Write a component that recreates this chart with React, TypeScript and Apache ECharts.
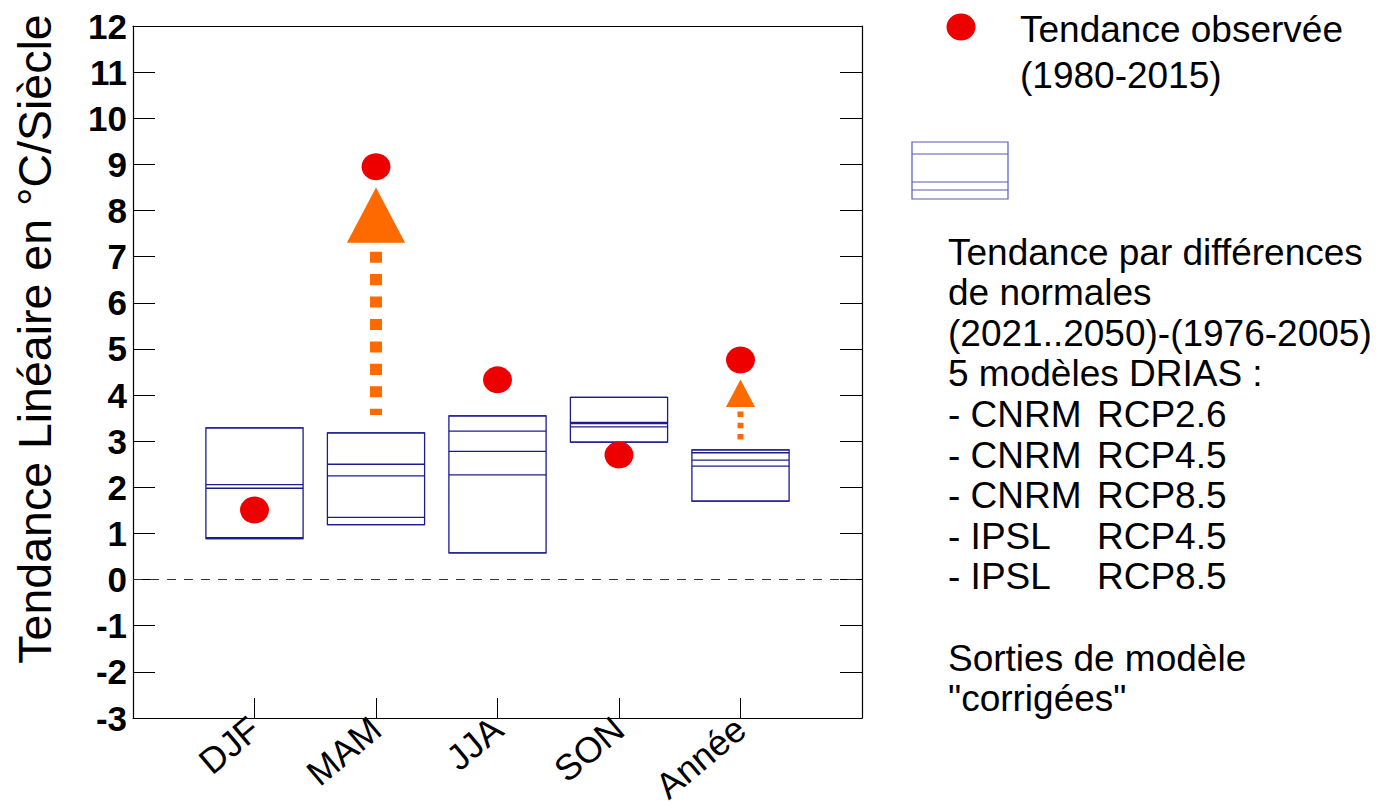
import React, { useEffect, useRef } from "react";
import * as echarts from "echarts";

// Seasons and the annual mean
const categories = ["DJF", "MAM", "JJA", "SON", "Année"];

// Observed linear trend 1980-2015 (°C per century)
const observedTrend = [1.51, 8.95, 4.33, 2.7, 4.76];

// Trends from differences of normals, one value per DRIAS model run
const modelTrendDJF = [3.29, 2.06, 1.98, 0.91, 0.89];
const modelTrendMAM = [3.18, 2.5, 2.25, 1.35, 1.19];
const modelTrendJJA = [3.55, 3.22, 2.78, 2.27, 0.58];
const modelTrendSON = [3.95, 3.41, 3.38, 3.31, 2.98];
const modelTrendYear = [2.81, 2.75, 2.59, 2.46, 1.7];
const modelTrends = [modelTrendDJF, modelTrendMAM, modelTrendJJA, modelTrendSON, modelTrendYear];

// Gap arrows between model range and observation
const arrowCategories = ["MAM", "Année"];
const arrowFrom = [3.57, 3.03];
const arrowTo = [8.5, 4.34];

// Value axis range
const yMin = -3;
const yMax = 12;
const yStep = 1;

// Legend text
const legendObserved = ["Tendance observée", "(1980-2015)"];
const legendIntro = ["Tendance par différences", "de normales", "(2021..2050)-(1976-2005)", "5 modèles DRIAS :"];
const modelNames = ["CNRM", "CNRM", "CNRM", "IPSL", "IPSL"];
const modelScenarios = ["RCP2.6", "RCP4.5", "RCP8.5", "RCP4.5", "RCP8.5"];
const legendNote = ["Sorties de modèle", "\"corrigées\""];

// Styling
const FONT = '"Liberation Sans", Arial, Helvetica, sans-serif';
const LEGEND_FONT = `37px ${FONT}`;
const BOX_COLOR = "#1c1c8f";
const BOX_LEGEND_COLOR = "#5a5ab8";
const DOT_COLOR = "#ee0000";
const ARROW_COLOR = "#ff6a00";
const BOX_HALF = 0.4;
const ARROW_WEIGHT: Record<string, number> = { MAM: 12, "Année": 6 };

function buildOption() {
  const boxData = categories.map((c, i) => [i + 1, ...modelTrends[i]]);
  const dotData = categories.map((c, i) => [i + 1, observedTrend[i]]);
  const arrowData = arrowCategories.map((c, i) => [categories.indexOf(c) + 1, arrowFrom[i], arrowTo[i]]);

  const legendX = 948;
  const lineStep = 40.6;
  const graphics: any[] = [];

  graphics.push({
    type: "ellipse",
    shape: { cx: 961, cy: 27, rx: 14.5, ry: 13.5 },
    style: { fill: DOT_COLOR },
  });
  legendObserved.forEach((t, i) => {
    graphics.push({
      type: "text",
      style: { text: t, x: 1020, y: 29 + i * 46, font: LEGEND_FONT, fill: "#000", textVerticalAlign: "middle" },
    });
  });

  // small sample box
  const bx = 912, bw = 96, bTop = 142, bBottom = 199;
  graphics.push({
    type: "rect",
    shape: { x: bx, y: bTop, width: bw, height: bBottom - bTop },
    style: { fill: "none", stroke: BOX_LEGEND_COLOR, lineWidth: 1.2 },
  });
  [154, 182, 190].forEach((y) => {
    graphics.push({
      type: "line",
      shape: { x1: bx, y1: y, x2: bx + bw, y2: y },
      style: { stroke: BOX_LEGEND_COLOR, lineWidth: 1.2 },
    });
  });

  let y = 252;
  legendIntro.forEach((t) => {
    graphics.push({
      type: "text",
      style: { text: t, x: legendX, y, font: LEGEND_FONT, fill: "#000", textVerticalAlign: "middle" },
    });
    y += lineStep;
  });
  modelNames.forEach((m, i) => {
    graphics.push({
      type: "text",
      style: { text: `- ${m}`, x: legendX, y, font: LEGEND_FONT, fill: "#000", textVerticalAlign: "middle" },
    });
    graphics.push({
      type: "text",
      style: { text: modelScenarios[i], x: 1097, y, font: LEGEND_FONT, fill: "#000", textVerticalAlign: "middle" },
    });
    y += lineStep;
  });
  y += lineStep;
  legendNote.forEach((t) => {
    graphics.push({
      type: "text",
      style: { text: t, x: legendX, y, font: LEGEND_FONT, fill: "#000", textVerticalAlign: "middle" },
    });
    y += lineStep;
  });

  // rotated value-axis title
  graphics.push({
    type: "text",
    x: 35,
    y: 339,
    rotation: Math.PI / 2,
    style: {
      text: "Tendance Linéaire en °C/Siècle",
      x: 0,
      y: 0,
      font: `46.5px ${FONT}`,
      fill: "#000",
      textAlign: "center",
      textVerticalAlign: "middle",
    },
  });

  const axisLineStyle = { color: "#000", width: 1.2 };

  return {
    animation: false,
    backgroundColor: "#fff",
    grid: { left: 133, right: 528, top: 26, bottom: 90, containLabel: false, outerBoundsMode: "none" },
    xAxis: [
      {
        type: "value",
        min: 0,
        max: 6,
        interval: 1,
        position: "bottom",
        axisLine: { show: true, onZero: false, lineStyle: axisLineStyle },
        axisTick: { show: true, inside: true, length: 20, lineStyle: { color: "#000", width: 1 } },
        splitLine: { show: false },
        axisLabel: {
          rotate: 40,
          margin: 6,
          fontSize: 36,
          fontFamily: FONT,
          color: "#000",
          formatter: (v: number) => {
            const k = Math.round(v);
            return k >= 1 && k <= categories.length ? categories[k - 1] : "";
          },
        },
      },
      {
        type: "value",
        min: 0,
        max: 6,
        position: "top",
        axisLine: { show: true, onZero: false, lineStyle: axisLineStyle },
        axisTick: { show: false },
        axisLabel: { show: false },
        splitLine: { show: false },
      },
    ],
    yAxis: [
      {
        type: "value",
        min: yMin,
        max: yMax,
        interval: yStep,
        position: "left",
        axisLine: { show: true, onZero: false, lineStyle: axisLineStyle },
        axisTick: { show: true, inside: true, length: 22, lineStyle: { color: "#000", width: 1 } },
        splitLine: { show: false },
        axisLabel: { margin: 6, fontSize: 35, fontWeight: "bold", fontFamily: FONT, color: "#000" },
      },
      {
        type: "value",
        min: yMin,
        max: yMax,
        interval: yStep,
        position: "right",
        axisLine: { show: true, onZero: false, lineStyle: axisLineStyle },
        axisTick: { show: true, inside: true, length: 22, lineStyle: { color: "#000", width: 1 } },
        splitLine: { show: false },
        axisLabel: { show: false },
      },
    ],
    graphic: graphics,
    series: [
      {
        type: "custom",
        name: "Modèles",
        xAxisIndex: 0,
        yAxisIndex: 0,
        data: boxData,
        encode: { x: 0, y: [1, 2, 3, 4, 5] },
        z: 2,
        renderItem: (params: any, api: any) => {
          const x = api.value(0);
          const vals = [1, 2, 3, 4, 5].map((d) => api.value(d));
          const left = api.coord([x - BOX_HALF, 0])[0];
          const right = api.coord([x + BOX_HALF, 0])[0];
          const ys = vals.map((v) => api.coord([x, v])[1]);
          const top = Math.min(...ys);
          const bottom = Math.max(...ys);
          const style = { fill: "none", stroke: BOX_COLOR, lineWidth: 1.3 };
          return {
            type: "group",
            children: [
              { type: "rect", shape: { x: left, y: top, width: right - left, height: bottom - top }, style },
              ...ys.map((yy) => ({
                type: "line",
                shape: { x1: left, y1: yy, x2: right, y2: yy },
                style: { stroke: BOX_COLOR, lineWidth: 1.3 },
              })),
            ],
          };
        },
        markLine: {
          silent: true,
          symbol: "none",
          label: { show: false },
          lineStyle: { type: [9, 8], color: "#333", width: 1 },
          data: [{ yAxis: 0 }],
        },
      },
      {
        type: "custom",
        name: "Écart",
        xAxisIndex: 0,
        yAxisIndex: 0,
        data: arrowData,
        encode: { x: 0, y: [1, 2] },
        z: 3,
        renderItem: (params: any, api: any) => {
          const x = api.value(0);
          const from = api.value(1);
          const to = api.value(2);
          const w = ARROW_WEIGHT[categories[Math.round(x) - 1]] || 6;
          const [cx, yFrom] = api.coord([x, from]);
          const yTip = api.coord([x, to])[1];
          const headH = w * 4.6;
          const headW = w * 4.85;
          const yBase = yTip + headH;
          return {
            type: "group",
            children: [
              {
                type: "line",
                shape: { x1: cx, y1: yBase + 0.75 * w, x2: cx, y2: yFrom },
                style: { stroke: ARROW_COLOR, lineWidth: w, lineDash: [w * 0.92, w * 0.95], lineCap: "butt" },
              },
              {
                type: "polygon",
                shape: { points: [[cx, yTip], [cx - headW / 2, yBase], [cx + headW / 2, yBase]] },
                style: { fill: ARROW_COLOR },
              },
            ],
          };
        },
      },
      {
        type: "scatter",
        name: "Tendance observée",
        xAxisIndex: 0,
        yAxisIndex: 0,
        data: dotData,
        symbol: "circle",
        symbolSize: [29, 27],
        itemStyle: { color: DOT_COLOR, opacity: 1 },
        z: 4,
      },
    ],
  };
}

export default function App() {
  const ref = useRef<HTMLDivElement>(null);
  useEffect(() => {
    if (!ref.current) return;
    const chart = echarts.init(ref.current, null, { renderer: "svg" });
    chart.setOption(buildOption() as any);
    return () => chart.dispose();
  }, []);
  return (
    <div
      ref={ref}
      style={{ position: "fixed", left: 0, top: 0, width: 1390, height: 808, background: "#fff" }}
    />
  );
}
